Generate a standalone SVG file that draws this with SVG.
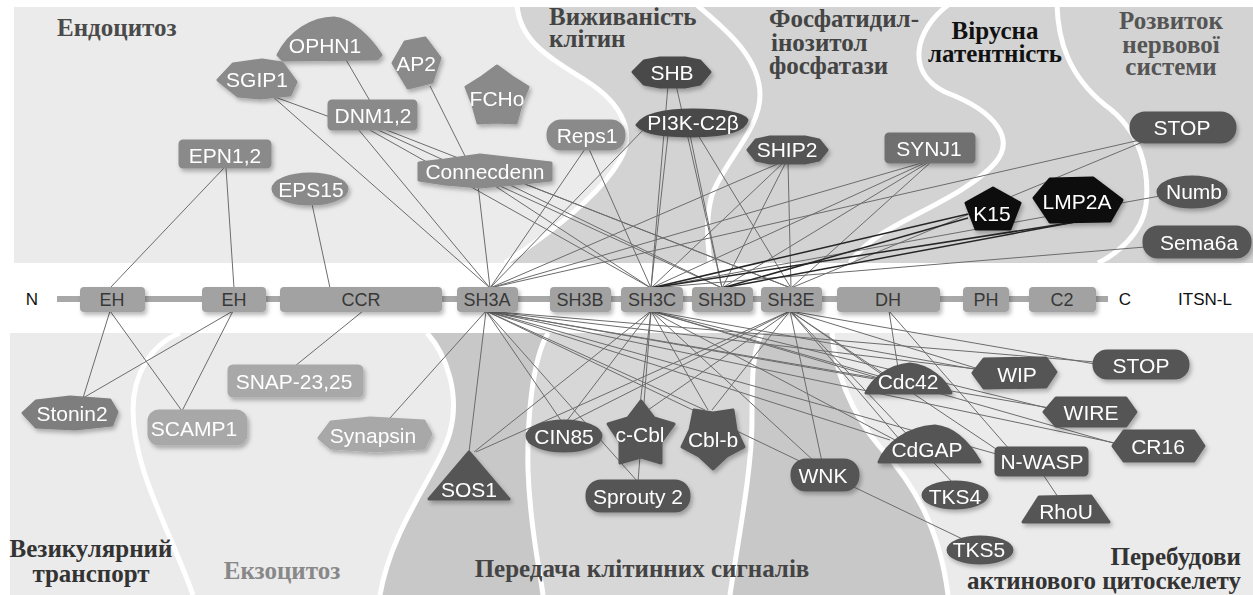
<svg xmlns="http://www.w3.org/2000/svg" width="1253" height="595" viewBox="0 0 1253 595">
<defs>
<filter id="sh" x="-20%" y="-30%" width="140%" height="170%"><feDropShadow dx="2" dy="3" stdDeviation="2" flood-color="#000" flood-opacity="0.28"/></filter>
<style>
.wc{fill:none;stroke:#fff;stroke-width:5}
.c line{stroke:#6c6c6c;stroke-width:1}
.d line{stroke:#262626;stroke-width:1.5}
.n1{fill:#8a8a8a;stroke:#8a8a8a;stroke-width:3;stroke-linejoin:round}
.n2{fill:#555;stroke:#555;stroke-width:3;stroke-linejoin:round}
.n2b{fill:#484848;stroke:#484848;stroke-width:3;stroke-linejoin:round}
.n3{fill:#0e0e0e;stroke:#0e0e0e;stroke-width:3;stroke-linejoin:round}
.n4{fill:#a8a8a8;stroke:#a8a8a8;stroke-width:3;stroke-linejoin:round}
.n5{fill:#6f6f6f;stroke:#6f6f6f;stroke-width:3;stroke-linejoin:round}
.n6{fill:#7e7e7e;stroke:#7e7e7e;stroke-width:3;stroke-linejoin:round}
.t{font-family:"Liberation Sans",Arial,sans-serif;font-size:21px;fill:#fff;text-anchor:middle;dominant-baseline:central}
.dm{fill:#a2a2a2}
.dt{font-family:"Liberation Sans",Arial,sans-serif;font-size:18px;fill:#383838;text-anchor:middle;dominant-baseline:central}
.lab{font-family:"Liberation Serif","Times New Roman",serif;font-weight:bold;font-size:25px}
.bt{font-family:"Liberation Sans",Arial,sans-serif;font-size:17px;fill:#111;text-anchor:middle;dominant-baseline:central}
</style>
</defs>

<g id="background">
<rect x="14" y="7" width="1239" height="256" fill="#ebebeb"/>
<path fill="#d3d3d3" d="M517,5 C520,40 545,55 585,80 C625,105 635,135 620,160 C600,195 555,230 505,263 L1253,263 L1253,7 L517,7 Z"/>
<path class="wc" d="M517,5 C520,40 545,55 585,80 C625,105 635,135 620,160 C600,195 555,230 505,263"/>
<path class="wc" d="M697,5 C720,25 760,55 760,95 C760,130 725,160 712,195 C705,220 708,245 710,263"/>
<path class="wc" d="M948,5 C915,30 905,72 945,92 C998,112 1015,140 995,163 C970,192 910,215 880,235 C865,245 855,255 850,263"/>
<path class="wc" d="M1057,5 C1058,40 1068,75 1105,105 C1140,130 1150,170 1146,205 C1142,235 1115,255 1098,263"/>
<rect x="0" y="0" width="1253" height="7" fill="#fff"/>
<rect x="10" y="333" width="1243" height="262" fill="#ebebeb"/>
<path fill="#c8c8c8" d="M427,333 C447,355 460,395 450,432 C440,470 392,525 380,595 L948,595 C940,530 915,485 880,447 C850,412 835,370 832,333 Z"/>
<path fill="#d7d7d7" d="M548,333 C532,360 527,420 528,470 C530,530 540,570 543,595 L730,595 C738,540 752,470 752,420 C752,380 752,352 762,333 Z"/>
<path class="wc" d="M180,333 C150,345 133,375 133,410 C133,470 170,530 193,595"/>
<path class="wc" d="M427,333 C447,355 460,395 450,432 C440,470 392,525 380,595"/>
<path class="wc" d="M548,333 C532,360 527,420 528,470 C530,530 540,570 543,595"/>
<path class="wc" d="M762,333 C752,352 752,380 752,420 C752,470 738,540 730,595"/>
<path class="wc" d="M832,333 C835,370 850,412 880,447 C915,485 940,530 948,595"/>
</g>

<g id="region-labels" class="lab">
<text x="57" y="36" fill="#4a4a4a">Ендоцитоз</text>
<text x="549" y="25" fill="#444">Виживаність<tspan x="549" dy="22">клітин</tspan></text>
<text x="769" y="27" fill="#444">Фосфатидил-<tspan x="771" dy="24">інозитол</tspan><tspan x="769" dy="23">фосфатази</tspan></text>
<text x="995" y="39" fill="#111" text-anchor="middle">Вірусна<tspan x="995" dy="23">латентність</tspan></text>
<text x="1171" y="29" fill="#555" text-anchor="middle">Розвиток<tspan x="1171" dy="24">нервової</tspan><tspan x="1171" dy="22">системи</tspan></text>
<text x="91" y="557" fill="#333" text-anchor="middle">Везикулярний<tspan x="91" dy="25">транспорт</tspan></text>
<text x="282" y="579" fill="#888" text-anchor="middle">Екзоцитоз</text>
<text x="642" y="577" fill="#444" text-anchor="middle">Передача клітинних сигналів</text>
<text x="1241" y="565" fill="#333" text-anchor="end">Перебудови<tspan x="1241" dy="24">актинового цитоскелету</tspan></text>
</g>

<g id="connectors">
<g class="c">
<line x1="224" y1="168" x2="110" y2="288"/>
<line x1="226" y1="168" x2="234" y2="288"/>
<line x1="312" y1="204" x2="330" y2="288"/>
<line x1="272" y1="96" x2="330" y2="117"/>
<line x1="272" y1="96" x2="490" y2="288"/>
<line x1="345" y1="58" x2="370" y2="101"/>
<line x1="430" y1="86" x2="466" y2="158"/>
<line x1="358" y1="129" x2="490" y2="288"/>
<line x1="368" y1="129" x2="651" y2="288"/>
<line x1="376" y1="129" x2="722" y2="288"/>
<line x1="384" y1="129" x2="791" y2="288"/>
<line x1="478" y1="185" x2="490" y2="288"/>
<line x1="495" y1="186" x2="651" y2="288"/>
<line x1="510" y1="185" x2="722" y2="288"/>
<line x1="525" y1="184" x2="791" y2="288"/>
<line x1="585" y1="149" x2="490" y2="288"/>
<line x1="589" y1="149" x2="651" y2="288"/>
<line x1="668" y1="85" x2="651" y2="288"/>
<line x1="676" y1="85" x2="722" y2="288"/>
<line x1="645" y1="128" x2="490" y2="288"/>
<line x1="668" y1="135" x2="651" y2="288"/>
<line x1="690" y1="135" x2="722" y2="288"/>
<line x1="698" y1="135" x2="791" y2="288"/>
<line x1="782" y1="162" x2="490" y2="288"/>
<line x1="784" y1="162" x2="651" y2="288"/>
<line x1="786" y1="162" x2="722" y2="288"/>
<line x1="788" y1="162" x2="791" y2="288"/>
<line x1="925" y1="162" x2="490" y2="288"/>
<line x1="927" y1="162" x2="651" y2="288"/>
<line x1="929" y1="162" x2="722" y2="288"/>
<line x1="931" y1="162" x2="791" y2="288"/>
<line x1="1140" y1="140" x2="490" y2="288"/>
<line x1="1145" y1="141" x2="791" y2="288"/>
<line x1="1160" y1="196" x2="651" y2="288"/>
<line x1="1145" y1="247" x2="651" y2="288"/>
<line x1="110" y1="311" x2="83" y2="398"/>
<line x1="110" y1="311" x2="182" y2="411"/>
<line x1="233" y1="311" x2="83" y2="398"/>
<line x1="233" y1="311" x2="182" y2="411"/>
<line x1="363" y1="311" x2="295" y2="366"/>
<line x1="486" y1="311" x2="390" y2="418"/>
<line x1="486" y1="311" x2="469" y2="452"/>
<line x1="486" y1="311" x2="562" y2="422"/>
<line x1="486" y1="311" x2="638" y2="482"/>
<line x1="486" y1="311" x2="705" y2="410"/>
<line x1="486" y1="311" x2="975" y2="545"/>
<line x1="486" y1="311" x2="880" y2="380"/>
<line x1="486" y1="311" x2="890" y2="440"/>
<line x1="486" y1="311" x2="985" y2="370"/>
<line x1="486" y1="311" x2="1095" y2="362"/>
<line x1="486" y1="311" x2="1050" y2="408"/>
<line x1="486" y1="311" x2="1115" y2="443"/>
<line x1="486" y1="311" x2="1000" y2="455"/>
<line x1="651" y1="311" x2="474" y2="452"/>
<line x1="651" y1="311" x2="566" y2="422"/>
<line x1="651" y1="311" x2="640" y2="405"/>
<line x1="651" y1="311" x2="638" y2="482"/>
<line x1="651" y1="311" x2="708" y2="410"/>
<line x1="651" y1="311" x2="815" y2="462"/>
<line x1="651" y1="311" x2="885" y2="380"/>
<line x1="651" y1="311" x2="895" y2="440"/>
<line x1="651" y1="311" x2="990" y2="372"/>
<line x1="651" y1="311" x2="1055" y2="410"/>
<line x1="651" y1="311" x2="1120" y2="445"/>
<line x1="790" y1="311" x2="476" y2="452"/>
<line x1="790" y1="311" x2="570" y2="422"/>
<line x1="790" y1="311" x2="648" y2="410"/>
<line x1="790" y1="311" x2="712" y2="410"/>
<line x1="790" y1="311" x2="822" y2="462"/>
<line x1="790" y1="311" x2="890" y2="380"/>
<line x1="790" y1="311" x2="900" y2="440"/>
<line x1="790" y1="311" x2="955" y2="485"/>
<line x1="790" y1="311" x2="1095" y2="364"/>
<line x1="790" y1="311" x2="995" y2="374"/>
<line x1="790" y1="311" x2="1005" y2="455"/>
<line x1="889" y1="311" x2="898" y2="368"/>
<line x1="889" y1="311" x2="1010" y2="450"/>
<line x1="1040" y1="470" x2="1060" y2="500"/>
</g>
<g class="d">
<line x1="968" y1="214" x2="651" y2="288"/>
<line x1="968" y1="218" x2="722" y2="288"/>
<line x1="1075" y1="222" x2="651" y2="288"/>
<line x1="1075" y1="222" x2="722" y2="288"/>
</g>
</g>

<g id="itsn-l">
<line x1="57" y1="299" x2="1108" y2="299" stroke="#a8a8a8" stroke-width="6"/>
<text class="bt" x="32" y="299">N</text>
<text class="bt" x="1125" y="299">C</text>
<text class="bt" x="1205" y="299" font-size="16">ITSN-L</text>
<g filter="url(#sh)">
<rect id="d-eh1" class="dm" x="80" y="287" width="65" height="25" rx="4"/>
<rect id="d-eh2" class="dm" x="202" y="287" width="64" height="25" rx="4"/>
<rect id="d-ccr" class="dm" x="280" y="287" width="162" height="25" rx="4"/>
<rect id="d-sh3a" class="dm" x="457" y="287" width="61" height="25" rx="4"/>
<rect id="d-sh3b" class="dm" x="550" y="287" width="61" height="25" rx="4"/>
<rect id="d-sh3c" class="dm" x="621" y="287" width="62" height="25" rx="4"/>
<rect id="d-sh3d" class="dm" x="692" y="287" width="61" height="25" rx="4"/>
<rect id="d-sh3e" class="dm" x="761" y="287" width="61" height="25" rx="4"/>
<rect id="d-dh" class="dm" x="837" y="287" width="103" height="25" rx="4"/>
<rect id="d-ph" class="dm" x="963" y="287" width="46" height="25" rx="4"/>
<rect id="d-c2" class="dm" x="1029" y="287" width="67" height="25" rx="4"/>
</g>
<text class="dt" x="112" y="300">EH</text>
<text class="dt" x="234" y="300">EH</text>
<text class="dt" x="361" y="300">CCR</text>
<text class="dt" x="487" y="300">SH3A</text>
<text class="dt" x="580" y="300">SH3B</text>
<text class="dt" x="652" y="300">SH3C</text>
<text class="dt" x="722" y="300">SH3D</text>
<text class="dt" x="791" y="300">SH3E</text>
<text class="dt" x="888" y="300">DH</text>
<text class="dt" x="986" y="300">PH</text>
<text class="dt" x="1062" y="300">C2</text>
</g>

<g id="n-ophn1" filter="url(#sh)"><path class="n1" d="M278,55 C290,32 312,18 334,18 C352,20 370,38 381,55 L377,59 L283,60 Z"/><text class="t" x="325" y="45">OPHN1</text></g>
<g id="n-ap2" filter="url(#sh)"><path class="n1" d="M393,63 L405,42 L425,38 L440,58 L432,82 L408,88 Z"/><text class="t" x="416" y="63">AP2</text></g>
<g id="n-sgip1" filter="url(#sh)"><path class="n1" d="M218,80 L233,64 L262,60 L282,63 L296,82 L290,95 L260,98 L238,96 Z"/><text class="t" x="257" y="79">SGIP1</text></g>
<g id="n-dnm" filter="url(#sh)"><rect class="n1" x="329" y="101" width="87" height="28" rx="3"/><text class="t" x="373" y="115">DNM1,2</text></g>
<g id="n-fcho" filter="url(#sh)"><path class="n1" d="M497,66 L512,77 L528,87 L521,105 L516,123 L497,122 L478,123 L473,105 L466,87 L482,77 Z"/><text class="t" x="497" y="98">FCHo</text></g>
<g id="n-connecdenn" filter="url(#sh)"><path class="n1" d="M419,163 L445,160 L480,155 L515,159 L551,163 L551,180 L515,184 L480,187 L445,184 L419,180 Z"/><text class="t" x="485" y="171">Connecdenn</text></g>
<g id="n-epn" filter="url(#sh)"><rect class="n1" x="180" y="141" width="90" height="26" rx="3"/><text class="t" x="225" y="155">EPN1,2</text></g>
<g id="n-eps15" filter="url(#sh)"><ellipse class="n1" cx="310" cy="189" rx="37" ry="15"/><text class="t" x="311" y="189">EPS15</text></g>
<g id="n-reps1" filter="url(#sh)"><rect class="n1" x="548" y="121" width="76" height="28" rx="13"/><text class="t" x="587" y="135">Reps1</text></g>
<g id="n-shb" filter="url(#sh)"><path class="n2b" d="M633,72 L644,61 L660,58 L685,58 L700,61 L710,72 L700,84 L685,87 L660,87 L644,84 Z"/><text class="t" x="672" y="72">SHB</text></g>
<g id="n-pi3k" filter="url(#sh)"><path class="n2b" d="M637,125 C645,113 670,110 693,110 C720,110 742,113 747,120 C744,132 720,136 693,136 C665,136 645,134 637,125 Z"/><text class="t" x="693" y="122">PI3K-C2β</text></g>
<g id="n-ship2" filter="url(#sh)"><path class="n2" d="M748,150 L756,140 L770,137 L805,137 L819,140 L827,150 L819,160 L805,163 L770,163 L756,160 Z"/><text class="t" x="787" y="149">SHIP2</text></g>
<g id="n-synj1" filter="url(#sh)"><rect class="n5" x="886" y="134" width="88" height="28" rx="3"/><text class="t" x="929" y="148">SYNJ1</text></g>
<g id="n-stop-top" filter="url(#sh)"><rect class="n2" x="1131" y="113" width="104" height="29" rx="14"/><text class="t" x="1182" y="127">STOP</text></g>
<g id="n-k15" filter="url(#sh)"><path class="n3" d="M993,188 L1020,203 L1010,229 L976,229 L966,203 Z"/><text class="t" x="992" y="213">K15</text></g>
<g id="n-lmp2a" filter="url(#sh)"><path class="n3" d="M1034,198 L1050,179 L1093,178 L1122,200 L1110,221 L1050,222 Z"/><text class="t" x="1077" y="201">LMP2A</text></g>
<g id="n-numb" filter="url(#sh)"><ellipse class="n2" cx="1192" cy="192" rx="34" ry="15"/><text class="t" x="1194" y="191">Numb</text></g>
<g id="n-sema6a" filter="url(#sh)"><rect class="n2" x="1144" y="227" width="106" height="30" rx="14"/><text class="t" x="1199" y="242">Sema6a</text></g>

<g id="n-stonin2" filter="url(#sh)"><path class="n6" d="M23,413 L36,401 L70,397 L110,400 L117,412 L112,425 L75,429 L36,427 Z"/><text class="t" x="72" y="413">Stonin2</text></g>
<g id="n-scamp1" filter="url(#sh)"><rect class="n4" x="149" y="411" width="97" height="33" rx="10"/><text class="t" x="194" y="428">SCAMP1</text></g>
<g id="n-snap" filter="url(#sh)"><rect class="n4" x="229" y="366" width="133" height="30" rx="4"/><text class="t" x="294" y="381">SNAP-23,25</text></g>
<g id="n-synapsin" filter="url(#sh)"><path class="n4" d="M319,438 L331,422 L370,418 L424,421 L431,434 L424,448 L375,451 L331,448 Z"/><text class="t" x="373" y="435">Synapsin</text></g>
<g id="n-sos1" filter="url(#sh)"><path class="n2" d="M469,452 L509,499 L429,499 Z" stroke-width="5"/><text class="t" x="469" y="489">SOS1</text></g>
<g id="n-cin85" filter="url(#sh)"><ellipse class="n2" cx="564" cy="436" rx="37" ry="15"/><text class="t" x="564" y="436">CIN85</text></g>
<g id="n-ccbl" filter="url(#sh)"><path class="n2" stroke-width="5" d="M641,401 L654,418 L674,424 L661,442 L661,463 L641,457 L620,463 L620,442 L608,424 L628,418 Z"/><text class="t" x="640" y="434">c-Cbl</text></g>
<g id="n-cblb" filter="url(#sh)"><path class="n2" stroke-width="5" d="M733,410 L736,430 L744,447 L727,456 L713,469 L699,456 L682,447 L690,430 L694,410 L713,413 Z"/><text class="t" x="713" y="439">Cbl-b</text></g>
<g id="n-sprouty2" filter="url(#sh)"><rect class="n2" x="587" y="481" width="102" height="30" rx="14"/><text class="t" x="638" y="496">Sprouty 2</text></g>
<g id="n-wnk" filter="url(#sh)"><rect class="n2" x="792" y="460" width="66" height="30" rx="14"/><text class="t" x="823" y="475">WNK</text></g>
<g id="n-cdc42" filter="url(#sh)"><path class="n2" d="M866,393 C873,379 888,366 910,364 C930,366 945,380 951,393 Z"/><text class="t" x="908" y="381">Cdc42</text></g>
<g id="n-wip" filter="url(#sh)"><path class="n2" d="M973,373 L984,359 L1046,358 L1056,372 L1046,387 L984,388 Z"/><text class="t" x="1017" y="374">WIP</text></g>
<g id="n-stop-bot" filter="url(#sh)"><rect class="n2" x="1094" y="351" width="94" height="27" rx="13"/><text class="t" x="1141" y="365">STOP</text></g>
<g id="n-wire" filter="url(#sh)"><path class="n2" d="M1044,412 L1056,398 L1126,398 L1136,412 L1126,426 L1056,426 Z"/><text class="t" x="1091" y="412">WIRE</text></g>
<g id="n-cr16" filter="url(#sh)"><path class="n2" d="M1113,446 L1124,431 L1194,431 L1204,446 L1194,461 L1124,461 Z"/><text class="t" x="1158" y="446">CR16</text></g>
<g id="n-cdgap" filter="url(#sh)"><path class="n2" d="M879,462 C886,445 905,428 935,426 C955,428 970,445 980,462 Z"/><text class="t" x="927" y="449">CdGAP</text></g>
<g id="n-nwasp" filter="url(#sh)"><rect class="n2" x="996" y="448" width="91" height="27" rx="3"/><text class="t" x="1042" y="461">N-WASP</text></g>
<g id="n-tks4" filter="url(#sh)"><ellipse class="n2" cx="955" cy="495" rx="32" ry="13"/><text class="t" x="955" y="496">TKS4</text></g>
<g id="n-rhou" filter="url(#sh)"><path class="n2" d="M1023,522 L1039,497 L1091,496 L1109,522 Z"/><text class="t" x="1066" y="511">RhoU</text></g>
<g id="n-tks5" filter="url(#sh)"><ellipse class="n2" cx="980" cy="550" rx="32" ry="13"/><text class="t" x="979" y="549">TKS5</text></g>
</svg>
